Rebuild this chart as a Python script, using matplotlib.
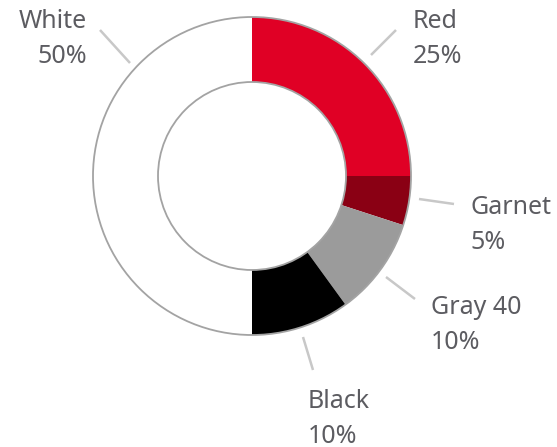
import matplotlib
matplotlib.use("Agg")
import matplotlib.pyplot as plt
from matplotlib.patches import Circle

# --- Daten -------------------------------------------------------------------
labels = ["Red", "Garnet", "Gray 40", "Black", "White"]
values = [25, 5, 10, 10, 50]
colors = ["#e00025", "#8a0014", "#9b9b9b", "#000000", "#ffffff"]

W, H = 557, 447
TEXT = "#5c5c61"
LEADER = "#c8c8c8"
OUTLINE = "#a3a3a3"

CX, CY = 252, 176      # Zentrum (Pixel, y von oben)
R_OUT, R_IN = 159, 94

# Label-Position (x, Baseline erste Zeile, Ausrichtung) und Leader-Linien
label_pos = {
    "Red": (413, 28, "left"),
    "Garnet": (470, 214, "left"),
    "Gray 40": (431, 314, "left"),
    "Black": (308, 408, "left"),
    "White": (87, 28, "right"),
}
leaders = {
    "Red": ((371, 55), (396, 30)),
    "Garnet": ((419, 199), (454, 204)),
    "Gray 40": ((386, 277), (415, 299)),
    "Black": ((303, 337), (313, 370)),
    "White": ((130, 63), (100, 30)),
}

plt.rcParams["font.family"] = ["Noto Sans", "DejaVu Sans"]

fig = plt.figure(figsize=(W / 100, H / 100), dpi=100)
ax = fig.add_axes([0, 0, 1, 1])


def fy(y):
    return H - y


ax.pie(values, colors=colors, startangle=90, counterclock=False,
       radius=R_OUT, center=(CX, fy(CY)),
       wedgeprops=dict(width=R_OUT - R_IN, edgecolor="none", linewidth=0))
for r in (R_OUT, R_IN):
    ax.add_patch(Circle((CX, fy(CY)), r, fill=False, edgecolor=OUTLINE, lw=1.3, zorder=5))

for lab, v in zip(labels, values):
    (x0, y0), (x1, y1) = leaders[lab]
    ax.plot([x0, x1], [fy(y0), fy(y1)], color=LEADER, lw=1.8, solid_capstyle="butt")
    tx, ty, ha = label_pos[lab]
    ax.text(tx, fy(ty), lab, ha=ha, va="baseline", fontsize=18, color=TEXT)
    ax.text(tx, fy(ty + 35), f"{v}%", ha=ha, va="baseline", fontsize=18, color=TEXT)

ax.set_xlim(0, W)
ax.set_ylim(0, H)
ax.set_aspect("auto")
ax.axis("off")
fig.savefig("out.png", dpi=100, facecolor="white")
